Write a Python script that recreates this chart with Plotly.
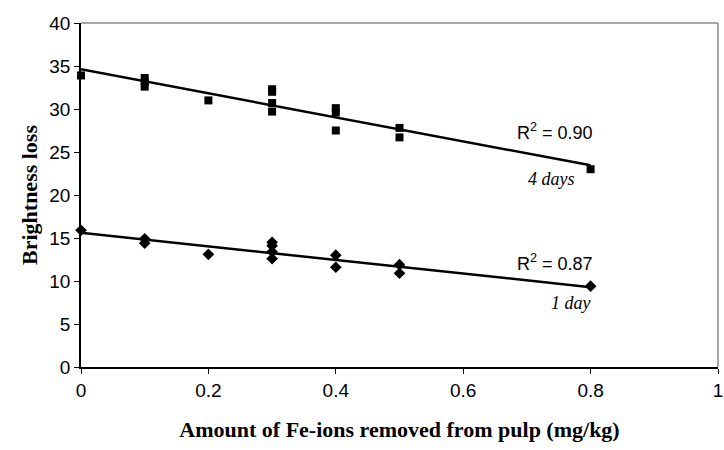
import numpy as np
import plotly.graph_objects as go

# 4 days series
x_4days = [0.0, 0.1, 0.1, 0.1, 0.2, 0.3, 0.3, 0.3, 0.3, 0.4, 0.4, 0.4, 0.5, 0.5, 0.8]
y_4days = [33.9, 33.6, 33.1, 32.6, 31.0, 32.3, 32.0, 30.7, 29.7, 30.1, 29.6, 27.5, 27.8, 26.7, 23.0]

# 1 day series
x_1day = [0.0, 0.1, 0.1, 0.2, 0.3, 0.3, 0.3, 0.3, 0.4, 0.4, 0.5, 0.5, 0.8]
y_1day = [15.9, 14.9, 14.4, 13.1, 14.5, 14.1, 13.4, 12.6, 13.0, 11.6, 11.9, 10.9, 9.4]

r2_labels = ["R<sup>2</sup> = 0.90", "R<sup>2</sup> = 0.87"]
series_labels = ["4 days", "1 day"]

x_title = "Amount of Fe-ions removed from pulp (mg/kg)"
y_title = "Brightness loss"

fig = go.Figure()

def add_series(xs, ys, symbol, size):
    fig.add_trace(go.Scatter(x=xs, y=ys, mode="markers",
                             marker=dict(symbol=symbol, size=size, color="black"),
                             cliponaxis=False, showlegend=False))
    slope, intercept = np.polyfit(xs, ys, 1)
    xl = [min(xs), max(xs)]
    yl = [intercept + slope * v for v in xl]
    fig.add_trace(go.Scatter(x=xl, y=yl, mode="lines",
                             line=dict(color="black", width=2.5),
                             cliponaxis=False, showlegend=False))

add_series(x_4days, y_4days, "square", 8)
add_series(x_1day, y_1day, "diamond", 9)

sans = "Liberation Sans, Arial"
serif = "Liberation Serif, Times New Roman"

fig.add_annotation(x=0.807, y=27.4, text=r2_labels[0], showarrow=False,
                   xanchor="right", yanchor="middle",
                   font=dict(family=sans, size=18, color="black"))
fig.add_annotation(x=0.779, y=21.85, text=series_labels[0], showarrow=False,
                   xanchor="right", yanchor="middle",
                   font=dict(family=serif, size=18, color="black", style="italic"))
fig.add_annotation(x=0.807, y=12.2, text=r2_labels[1], showarrow=False,
                   xanchor="right", yanchor="middle",
                   font=dict(family=sans, size=18, color="black"))
fig.add_annotation(x=0.804, y=7.4, text=series_labels[1], showarrow=False,
                   xanchor="right", yanchor="middle",
                   font=dict(family=serif, size=18, color="black", style="italic"))

# gray frame top and right
fig.add_shape(type="line", xref="paper", yref="paper", x0=0, x1=1, y0=1, y1=1,
              line=dict(color="#888888", width=1.5))
fig.add_shape(type="line", xref="paper", yref="paper", x0=1, x1=1, y0=0, y1=1,
              line=dict(color="#888888", width=1.5))

fig.update_xaxes(range=[0, 1], dtick=0.2, showgrid=False, zeroline=False,
                 showline=True, linecolor="black", linewidth=1.5,
                 ticks="outside", ticklen=5, tickcolor="black",
                 ticklabeloverflow="allow",
                 tickfont=dict(family=sans, size=19, color="black"),
                 title=dict(text="<b>" + x_title + "</b>", standoff=22,
                            font=dict(family=serif, size=22, color="black")))
fig.update_yaxes(range=[0, 40], dtick=5, showgrid=False, zeroline=False,
                 showline=True, linecolor="black", linewidth=1.5,
                 ticks="outside", ticklen=5, tickcolor="black",
                 tickfont=dict(family=sans, size=19, color="black"),
                 title=dict(text="<b>" + y_title + "</b>", standoff=6,
                            font=dict(family=serif, size=22, color="black")))

fig.update_layout(width=724, height=450, margin=dict(l=81, r=6, t=23, b=83, autoexpand=False),
                  plot_bgcolor="white", paper_bgcolor="white")

fig.write_html("out.html", config={"displayModeBar": False},
               post_script="document.body.style.margin='0';document.body.style.overflow='hidden';")
